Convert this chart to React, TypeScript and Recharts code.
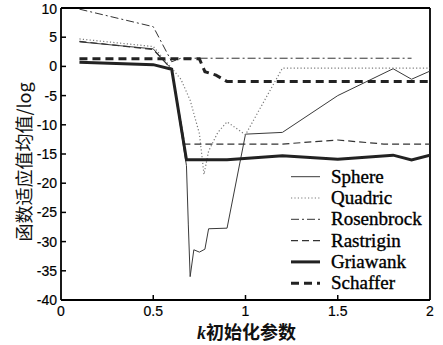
import React from 'react';
import { LineChart, Line, XAxis, YAxis, ReferenceLine, Legend } from 'recharts';

const xTicks = [0, 0.5, 1, 1.5, 2];
const yTicks = [-40, -35, -30, -25, -20, -15, -10, -5, 0, 5, 10];

const sphereK = [0.1, 0.5, 0.6, 0.68, 0.69, 0.7, 0.72, 0.75, 0.78, 0.8, 0.9, 1.0, 1.2, 1.5, 1.8, 1.9, 2.0];
const sphereV = [4.2, 3.0, -0.5, -17, -27, -36, -31.4, -31.8, -31.3, -27.8, -27.7, -11.6, -11.3, -5.0, -0.4, -2.2, -0.8];

const quadricK = [0.1, 0.5, 0.6, 0.65, 0.7, 0.75, 0.775, 0.8, 0.85, 0.9, 1.0, 1.2, 2.0];
const quadricV = [4.7, 3.4, -0.3, -2.2, -5.8, -11.5, -18.5, -14.5, -11.3, -9.5, -11.7, -0.3, -0.3];

const rosenbrockK = [0.1, 0.5, 0.6, 0.65, 1.9];
const rosenbrockV = [9.8, 6.8, 0.8, 1.4, 1.4];

const rastriginK = [0.1, 0.5, 0.6, 0.67, 1.2, 1.5, 1.75, 2.0];
const rastriginV = [4.3, 2.9, -0.5, -13.3, -13.3, -12.6, -13.3, -13.3];

const griewankK = [0.1, 0.5, 0.6, 0.68, 0.9, 1.2, 1.5, 1.8, 1.9, 2.0];
const griewankV = [0.7, 0.3, -0.5, -16, -16, -15.3, -15.9, -15.2, -16, -15.2];

const schafferK = [0.1, 0.75, 0.78, 0.84, 0.9, 2.0];
const schafferV = [1.3, 1.3, -0.9, -1.5, -2.6, -2.6];

const toData = (ks: number[], vs: number[]) => ks.map((k, i) => ({ k, v: vs[i] }));

const series = [
  { name: 'Sphere', data: toData(sphereK, sphereV), stroke: '#3a3a3a', width: 1, dash: undefined as string | undefined },
  { name: 'Quadric', data: toData(quadricK, quadricV), stroke: '#7a7a7a', width: 1.2, dash: '1.2 2.2' },
  { name: 'Rosenbrock', data: toData(rosenbrockK, rosenbrockV), stroke: '#333', width: 1, dash: '8 3 2 3' },
  { name: 'Rastrigin', data: toData(rastriginK, rastriginV), stroke: '#333', width: 1.2, dash: '7 4' },
  { name: 'Griawank', data: toData(griewankK, griewankV), stroke: '#222', width: 3, dash: undefined },
  { name: 'Schaffer', data: toData(schafferK, schafferV), stroke: '#222', width: 3, dash: '8 5' },
];

const tickFont = '"Liberation Sans", Arial, sans-serif';

const XTick = (props: any) => {
  const { x, y, payload } = props;
  const v = payload.value;
  return (
    <g>
      {v > 0 && v < 2 && (
        <line x1={x} x2={x} y1={y - 5} y2={y - 10} stroke="#000" strokeWidth={1.5} />
      )}
      <text x={x} y={y} dy="0.75em" textAnchor="middle" fontFamily={tickFont} fontSize={14} fill="#000" stroke="#000" strokeWidth={0.2}>
        {String(v)}
      </text>
    </g>
  );
};

const YTick = (props: any) => {
  const { x, y, payload } = props;
  const v = payload.value;
  return (
    <g>
      {v > -40 && v < 10 && (
        <line x1={x + 4} x2={x + 9} y1={y} y2={y} stroke="#000" strokeWidth={1.5} />
      )}
      <text x={x} y={y} dy="0.36em" textAnchor="end" fontFamily={tickFont} fontSize={14} fill="#000" stroke="#000" strokeWidth={0.2}>
        {String(v)}
      </text>
    </g>
  );
};

const YTitle = (props: any) => {
  const vb = props.viewBox || { x: 0, y: 8, width: 61, height: 292 };
  const cx = vb.x + 23;
  const cy = vb.y + vb.height / 2 + 8;
  return (
    <text
      x={cx}
      y={cy}
      transform={`rotate(-90 ${cx} ${cy})`}
      textAnchor="middle"
      dominantBaseline="central"
      fontFamily='"Noto Sans CJK SC", sans-serif'
      fontSize={18}
      fill="#111"
    >
      函数适应值均值/log
    </text>
  );
};

const XTitle = (props: any) => {
  const vb = props.viewBox || { x: 61, y: 300, width: 369, height: 45 };
  const cx = vb.x + vb.width / 2 + 1;
  const cy = vb.y + 39;
  return (
    <text x={cx} y={cy} textAnchor="middle" fill="#111" fontSize={18} fontWeight="bold">
      <tspan fontFamily='"Liberation Serif", serif' fontStyle="italic">k</tspan>
      <tspan fontFamily='"Noto Sans CJK SC", sans-serif'>初始化参数</tspan>
    </text>
  );
};

const LegendBox = () => (
  <svg width={150} height={130} style={{ display: 'block' }}>
    {series.map((s, i) => {
      const cy = 10.7 + 21.3 * i;
      return (
        <g key={s.name}>
          <line x1={6} x2={35} y1={cy} y2={cy} stroke={s.stroke} strokeWidth={s.width} strokeDasharray={s.dash} />
          <text x={46} y={cy + 6} fontFamily='"Liberation Serif", "Times New Roman", serif' fontSize={19} fill="#000" stroke="#000" strokeWidth={0.35}>
            {s.name}
          </text>
        </g>
      );
    })}
  </svg>
);

export default function App() {
  return (
    <div style={{ position: 'absolute', left: 0, top: 0, width: 443, height: 345, background: '#fff' }}>
      <LineChart width={443} height={345} margin={{ top: 8, right: 13, bottom: 0, left: 0 }}>
        <XAxis
          type="number"
          dataKey="k"
          domain={[0, 2]}
          ticks={xTicks}
          allowDataOverflow
          height={45}
          tickSize={0}
          tickMargin={5}
          tickLine={false}
          axisLine={{ stroke: '#000', strokeWidth: 1.8 }}
          tick={<XTick />}
          label={<XTitle />}
        />
        <YAxis
          type="number"
          domain={[-40, 10]}
          ticks={yTicks}
          allowDataOverflow
          width={61}
          tickSize={0}
          tickMargin={4}
          tickLine={false}
          axisLine={{ stroke: '#000', strokeWidth: 1.8 }}
          tick={<YTick />}
          label={<YTitle />}
        />
        <ReferenceLine y={10} stroke="#000" strokeWidth={1.8} />
        <ReferenceLine x={2} stroke="#000" strokeWidth={1.8} />
        {series.map((s) => (
          <Line
            key={s.name}
            data={s.data}
            dataKey="v"
            name={s.name}
            type="linear"
            stroke={s.stroke}
            strokeWidth={s.width}
            strokeDasharray={s.dash}
            dot={false}
            activeDot={false}
            isAnimationActive={false}
          />
        ))}
        <Legend
          layout="vertical"
          align="center"
          verticalAlign="middle"
          content={<LegendBox />}
          wrapperStyle={{ position: 'absolute', left: 285, top: 166, width: 150, height: 130 }}
        />
      </LineChart>
    </div>
  );
}
